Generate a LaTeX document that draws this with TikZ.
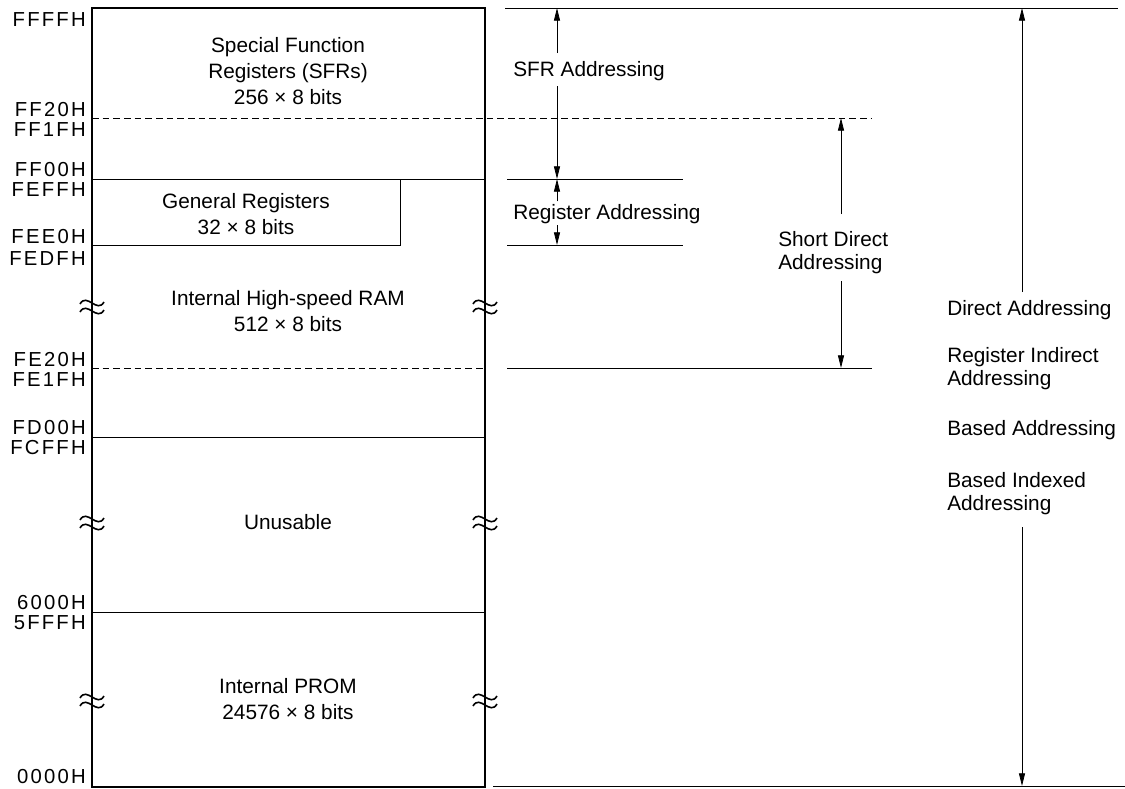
\documentclass[tikz,border=0pt]{standalone}
\usepackage{fontspec}
\setmainfont{Liberation Sans}
\newfontfamily\addrfont[LetterSpace=11]{Liberation Sans}
\usetikzlibrary{arrows.meta,positioning}

\newcommand{\memsize}{\fontsize{15.6}{19.2}\selectfont}

\begin{document}
\begin{tikzpicture}[x=0.75pt,y=-0.75pt,>={Triangle[length=9.5pt,width=4.5pt]},
    every node/.style={inner sep=0pt,font=\memsize}]

    \tikzstyle{addr}=[anchor=east,font=\addrfont\fontsize{15.2}{19}\selectfont]
    \tikzstyle{area}=[align=center]
    \tikzstyle{mode}=[anchor=west,align=left,font=\fontsize{15.6}{17.25}\selectfont]
    \tikzstyle{frame}=[line width=1.9pt]
    \tikzstyle{rule}=[line width=0.7pt]
    \tikzstyle{dim}=[line width=0.6pt,->]
    \tikzstyle{brk}=[line width=1.2pt]

    \useasboundingbox (0,0) rectangle (1125,789);

    % memory map
    \draw[rule,dashed,dash pattern=on 5pt off 3pt] (92,118) -- (872,118);
    \draw[rule] (92,179) -- (485,179);
    \draw[rule] (92,245) -| (400,179);
    \draw[rule,dashed,dash pattern=on 5pt off 3pt] (92,368) -- (485,368);
    \draw[rule] (92,437) -- (485,437);
    \draw[rule] (92,612) -- (485,612);
    \draw[frame] (92,8) rectangle (485,787);

    \foreach \bx in {92,485}
      \foreach \by in {306,522,700} {
        \draw[brk] (\bx-12,\by-2) .. controls (\bx-5,\by-14) and (\bx+5,\by+8) .. (\bx+12,\by-4);
        \draw[brk] (\bx-12,\by+6) .. controls (\bx-5,\by-6) and (\bx+5,\by+16) .. (\bx+12,\by+4);
      }

    % addresses
    \foreach \y/\lbl in {20/FFFFH,110/FF20H,130/FF1FH,170/FF00H,190/FEFFH,237/FEE0H,
                         259/FEDFH,360/FE20H,380/FE1FH,428/FD00H,448/FCFFH,
                         603/6000H,623/5FFFH,777/0000H}
      \node[addr] (a\lbl) at (86,\y) {\lbl};

    % areas
    \node[area] (sfrs)   at (288,71)  {Special Function\\Registers (SFRs)\\256 × 8 bits};
    \node[area] (genreg) at (246,214) {General Registers\\32 × 8 bits};
    \node[area] (ram)    at (288,311) {Internal High-speed RAM\\512 × 8 bits};
    \node[area] (unus)   at (288,522) {Unusable};
    \node[area] (prom)   at (288,699) {Internal PROM\\24576 × 8 bits};

    % addressing ranges
    \coordinate (top)  at (505,8);
    \coordinate (topr) at (1118,8);
    \coordinate (bot)  at (493,786);
    \coordinate (botr) at (1125,786);
    \coordinate (rg1)  at (507,179);
    \coordinate (rg1r) at (683,179);
    \coordinate (rg2)  at (507,245);
    \coordinate (rg2r) at (683,245);
    \coordinate (sd1)  at (507,368);
    \coordinate (sd1r) at (872,368);
    \draw[rule] (top) -- (topr);
    \draw[rule] (bot) -- (botr);
    \draw[rule] (rg1) -- (rg1r);
    \draw[rule] (rg2) -- (rg2r);
    \draw[rule] (sd1) -- (sd1r);

    \coordinate (s1) at (557,8);
    \coordinate (s2) at (557,179);
    \coordinate (s3) at (557,245);
    \coordinate (d1) at (841,118);
    \coordinate (d2) at (841,368);
    \coordinate (e1) at (1022,8);
    \coordinate (e2) at (1022,786);

    \node[mode] (sfradr) at (513,71)  {SFR Addressing};
    \node[mode] (regadr) at (513,214) {Register Addressing};
    \node[mode] (sdadr)  at (778,253) {Short Direct\\Addressing};
    \node[mode] (dir)    at (947,310) {Direct Addressing};
    \node[mode] (rind)   at (947,369) {Register Indirect\\Addressing};
    \node[mode] (based)  at (947,430) {Based Addressing};
    \node[mode] (bidx)   at (947,494) {Based Indexed\\Addressing};

    \draw[dim,shorten <=6pt] (sfradr.north -| s1) -- (s1);
    \draw[dim,shorten <=4pt] (sfradr.south -| s1) -- (s2);
    \draw[dim,shorten <=2pt] (regadr.north -| s1) -- (s2);
    \draw[dim,shorten <=1pt] (regadr.south -| s1) -- (s3);
    \draw[dim,shorten <=13pt] (sdadr.north -| d1) -- (d1);
    \draw[dim,shorten <=5pt] (sdadr.south -| d1) -- (d2);
    \draw[dim,shorten <=6pt] (dir.north -| e1) -- (e1);
    \draw[dim,shorten <=9pt] (bidx.south -| e1) -- (e2);
\end{tikzpicture}
\end{document}
